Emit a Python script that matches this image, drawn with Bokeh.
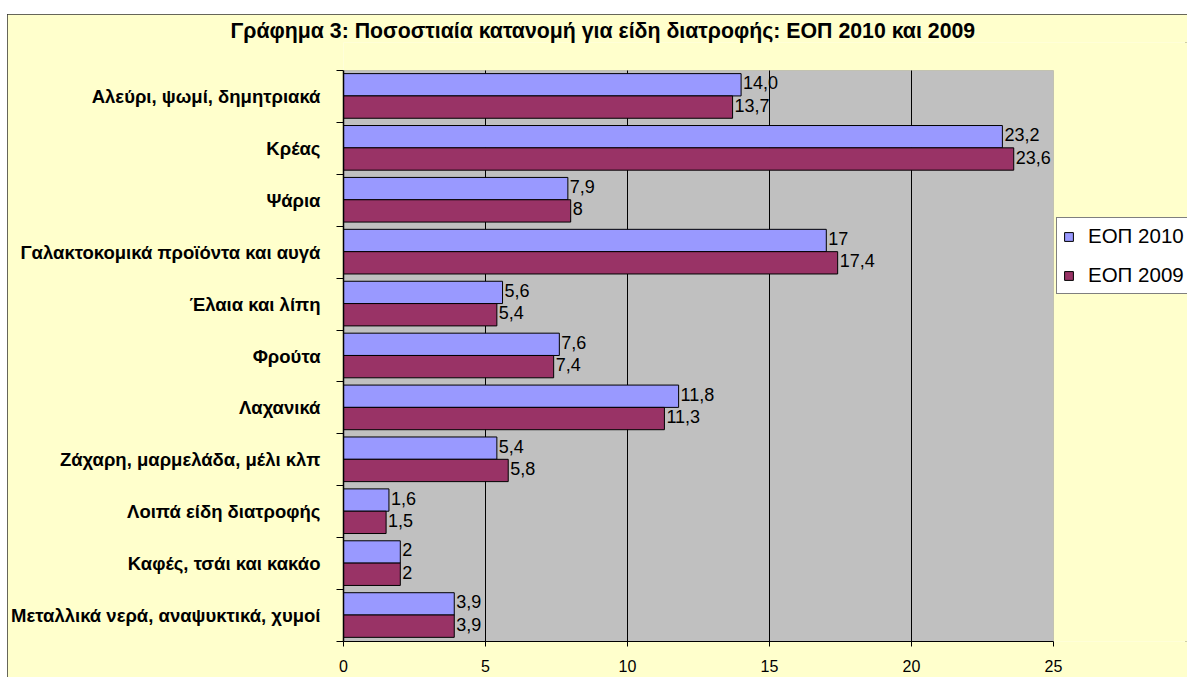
from bokeh.plotting import figure
from bokeh.models import (Range1d, FixedTicker, Legend, LegendItem, Title,
                          BoxAnnotation, ColumnDataSource, Spacer)
from bokeh.layouts import column, row
from bokeh.core.properties import value
from bokeh.embed import file_html
from bokeh.resources import INLINE

categories = ["Αλεύρι, ψωμί, δημητριακά", "Κρέας", "Ψάρια",
              "Γαλακτοκομικά προϊόντα και αυγά", "Έλαια και λίπη", "Φρούτα",
              "Λαχανικά", "Ζάχαρη, μαρμελάδα, μέλι κλπ", "Λοιπά είδη διατροφής",
              "Καφές, τσάι και κακάο", "Μεταλλικά νερά, αναψυκτικά, χυμοί"]
eop2010 = [14.0, 23.2, 7.9, 17.0, 5.6, 7.6, 11.8, 5.4, 1.6, 2.0, 3.9]
eop2009 = [13.7, 23.6, 8.0, 17.4, 5.4, 7.4, 11.3, 5.8, 1.5, 2.0, 3.9]
labels2010 = ["14,0", "23,2", "7,9", "17", "5,6", "7,6", "11,8", "5,4", "1,6", "2", "3,9"]
labels2009 = ["13,7", "23,6", "8", "17,4", "5,4", "7,4", "11,3", "5,8", "1,5", "2", "3,9"]
series_names = ["ΕΟΠ 2010", "ΕΟΠ 2009"]
x_ticks = [0, 5, 10, 15, 20, 25]
title_text = "Γράφημα 3: Ποσοστιαία κατανομή για είδη διατροφής: ΕΟΠ 2010 και 2009"

FONT = "Liberation Sans"
BLUE = "#9999FF"
MAROON = "#993366"
PLOT_BG = "#C0C0C0"
CHART_BG = "#FFFFCC"

n = len(categories)
idx = list(range(n))
XMAX = x_ticks[-1]

# layout geometry (pixels)
FIG_W, FIG_H = 1180, 663
BORDER_L, BORDER_B, BORDER_T = 336, 36, 28
AREA_W = 710          # width of the grey plot area
AREA_TOP = 28         # grey area top, from frame top
frame_w = FIG_W - BORDER_L
frame_h = FIG_H - BORDER_B - BORDER_T
area_h = frame_h - AREA_TOP
ppu_y = area_h / n                  # pixels per category
ppu_x = AREA_W / XMAX               # pixels per unit value

y_bottom = n - 0.5
y_top = -0.5 - AREA_TOP / ppu_y
x_end = frame_w / ppu_x

bar_h = 0.43
src10 = ColumnDataSource(dict(y=[i - 0.225 for i in idx], v=eop2010, lab=labels2010))
src09 = ColumnDataSource(dict(y=[i + 0.205 for i in idx], v=eop2009, lab=labels2009))

p = figure(width=FIG_W, height=FIG_H, output_backend="svg", toolbar_location=None,
           x_range=Range1d(0, x_end), y_range=Range1d(y_bottom, y_top),
           min_border_left=BORDER_L, min_border_right=0, min_border_top=BORDER_T,
           min_border_bottom=BORDER_B)
p.border_fill_color = CHART_BG
p.background_fill_color = CHART_BG
p.outline_line_color = None

area = BoxAnnotation(left=0, right=XMAX, top=-0.5, bottom=n - 0.5,
                     fill_color=PLOT_BG, fill_alpha=1, line_color="#808080",
                     line_width=1, level="underlay")
p.add_layout(area)

# vertical grid lines inside the grey area
grid_x = x_ticks[1:-1]
p.segment(x0=grid_x, x1=grid_x, y0=[-0.5] * len(grid_x), y1=[n - 0.5] * len(grid_x),
          line_color="black", line_width=1)

r10 = p.hbar(y="y", right="v", left=0, height=bar_h, source=src10,
             fill_color=BLUE, line_color="black", line_width=1)
r09 = p.hbar(y="y", right="v", left=0, height=bar_h, source=src09,
             fill_color=MAROON, line_color="black", line_width=1)

for s in (src10, src09):
    p.text(x="v", y="y", text="lab", source=s, x_offset=2, y_offset=-2,
           text_font=value(FONT), text_font_size="18px", text_color="black",
           text_baseline="middle", text_align="left")

# x axis
p.xaxis.ticker = FixedTicker(ticks=x_ticks)
p.xaxis.bounds = (0, XMAX)
p.xaxis.axis_line_color = "black"
p.xaxis.major_tick_out = 5
p.xaxis.major_tick_in = 0
p.xaxis.minor_tick_line_color = None
p.xaxis.major_tick_line_color = "black"
p.xaxis.major_label_text_font = FONT
p.xaxis.major_label_text_font_size = "16px"
p.xaxis.major_label_text_color = "black"
p.xaxis.major_label_standoff = 13

# y axis
p.yaxis.ticker = FixedTicker(ticks=idx, minor_ticks=[i - 0.5 for i in range(n + 1)])
p.yaxis.bounds = (-0.5, n - 0.5)
p.yaxis.major_label_overrides = {i: c for i, c in zip(idx, categories)}
p.yaxis.axis_line_color = "black"
p.yaxis.axis_line_width = 1.5
p.yaxis.major_tick_line_color = None
p.yaxis.major_tick_out = 0
p.yaxis.major_tick_in = 0
p.yaxis.minor_tick_out = 7
p.yaxis.minor_tick_in = 0
p.yaxis.minor_tick_line_color = "black"
p.yaxis.major_label_text_font = FONT
p.yaxis.major_label_text_font_style = "bold"
p.yaxis.major_label_text_font_size = "18.5px"
p.yaxis.major_label_text_color = "black"
p.yaxis.major_label_standoff = 16

p.xgrid.visible = False
p.ygrid.visible = False

p.title = Title(text=title_text, align="left", offset=-113,
                vertical_align="bottom", standoff=0,
                text_font=FONT, text_font_style="bold", text_font_size="21.3px",
                text_color="black")

legend = Legend(items=[LegendItem(label=series_names[0], renderers=[r10]),
                       LegendItem(label=series_names[1], renderers=[r09])],
                location=(713, 347), orientation="vertical",
                label_text_font=FONT, label_text_font_size="20.5px",
                label_text_color="black", glyph_width=11, glyph_height=11,
                label_height=16, spacing=15, padding=6, margin=0,
                label_standoff=14, border_line_color="black",
                border_line_width=1, background_fill_color="white",
                background_fill_alpha=1)
p.add_layout(legend, "center")

p.styles = {"outline": "2px solid #333333", "outline-offset": "-2px"}

layout = row(Spacer(width=7), column(Spacer(height=14), p, spacing=0), spacing=0)
open("out.html", "w").write(file_html(layout, INLINE))
